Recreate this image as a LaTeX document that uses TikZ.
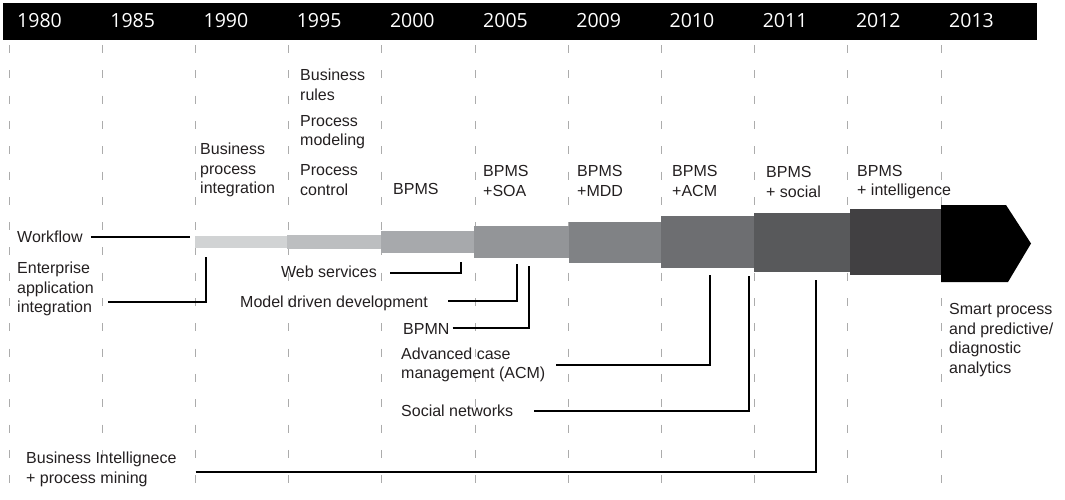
\documentclass[tikz,border=0pt]{standalone}
\usepackage{fontspec}
\setmainfont{Liberation Sans}
\newfontfamily\yearfont{Open Sans}
\usepackage{tikz}
\usetikzlibrary{positioning}

\definecolor{ink}{HTML}{231F20}
\definecolor{tone1}{HTML}{D1D3D4}
\definecolor{tone2}{HTML}{BCBEC0}
\definecolor{tone3}{HTML}{A7A9AC}
\definecolor{tone4}{HTML}{939598}
\definecolor{tone5}{HTML}{808285}
\definecolor{tone6}{HTML}{6D6E71}
\definecolor{tone7}{HTML}{58595B}
\definecolor{tone8}{HTML}{414042}

\tikzset{
  guide/.style={draw=gray!65, line width=0.9pt, dash pattern=on 8pt off 17.3pt},
  year/.style={text=white, font=\yearfont\fontsize{19.5}{22}\selectfont, anchor=west, inner sep=0},
  lbl/.style={text=ink, font=\fontsize{16}{19.6}\selectfont, align=left, inner sep=0},
  conn/.style={draw=black, line width=1.6pt},
  seg/.style={inner sep=0, outer sep=0, anchor=west, minimum height=#1},
}

\begin{document}
\begin{tikzpicture}[x=1pt,y=-1pt]
\useasboundingbox (0,0) rectangle (1065,500);
% header band with the years
\fill[black] (3,3) rectangle (1037,40);
\foreach \yr [count=\i from 0] in {1980,1985,1990,1995,2000,2005,2009,2010,2011,2012,2013} {
  \draw[guide] ({9+93.2*\i},45) -- ({9+93.2*\i},492);
  \node[year] (y\yr) at ({17+93.2*\i},21) {\yr};
}

% the growing bar
\foreach \x/\w/\h/\c [count=\n] in {195/92/12/tone1, 287/94/14/tone2, 381/93/22/tone3,
    474/95/32/tone4, 569/92/41/tone5, 661/93/52/tone6, 754/96/59/tone7, 850/91/66/tone8} {
  \node[seg=\h pt, fill=\c, minimum width=\w pt] (s\n) at (\x,242) {};
}
\fill[black] (941,205) -- (1006,205) -- (1031,243.5) -- (1008,282) -- (941,282) -- cycle;

% labels above
\node[lbl, anchor=west] (bpi) at (200,170) {Business\\process\\integration};
\node[lbl, anchor=west] (brules) at (300,85) {Business\\rules};
\node[lbl, anchor=west] (pmod) at (300,132) {Process\\modeling};
\node[lbl, anchor=west] (pctl) at (300,180) {Process\\control};
\node[lbl, anchor=west] (bpms) at (393,189) {BPMS};
\node[lbl, anchor=west] (soa) at (483,181) {BPMS\\+SOA};
\node[lbl, anchor=west] (mdd) at (577,181) {BPMS\\+MDD};
\node[lbl, anchor=west] (acmtop) at (672,181) {BPMS\\+ACM};
\node[lbl, anchor=west] (social) at (766,182) {BPMS\\+ social};
\node[lbl, anchor=west] (intel) at (857,182) {BPMS\\+ intelligence};
\node[lbl, anchor=west] (smart) at (949,340) {Smart process\\and predictive/\\diagnostic\\analytics};

% labels below
\node[lbl, anchor=west] (wf) at (17,237) {Workflow};
\node[lbl, anchor=west] (eai) at (17,289) {Enterprise\\application\\integration};
\node[lbl, anchor=east] (ws) at (377,272) {Web services};
\node[lbl, anchor=west] (mdev) at (240,303) {Model driven development};
\node[lbl, anchor=west] (bpmn) at (403,329) {BPMN};
\node[lbl, anchor=west] (acm) at (401,365) {Advanced case\\management (ACM)};
\node[lbl, anchor=west] (snet) at (401,411) {Social networks};
\node[lbl, anchor=west] (bi) at (26,469.5) {Business Intellignece\\+ process mining};

% connectors
\draw[conn] ([xshift=8pt]wf.east) -- ([xshift=-5pt]wf.east -| s1.west);
\draw[conn] ([xshift=14pt,yshift=-13pt]eai.east) -| ([xshift=11pt,yshift=-9pt]s1.south west);
\draw[conn] ([xshift=13pt,yshift=-1pt]ws.east) -| ([xshift=-13pt,yshift=-9pt]s3.south east);
\draw[conn] ([xshift=20pt,yshift=2pt]mdev.east) -| ([xshift=43pt,yshift=-6pt]s4.south west);
\draw[conn] ([xshift=3pt,yshift=1pt]bpmn.east) -| ([xshift=55pt,yshift=-8pt]s4.south west);
\draw[conn] ([xshift=11pt]acm.east) -| ([xshift=49pt,yshift=-7pt]s6.south west);
\draw[conn] ([xshift=21pt]snet.east) -| ([xshift=-5pt,yshift=-8pt]s6.south east);
\draw[conn] ([xshift=19pt,yshift=-2.5pt]bi.east) -| ([xshift=62pt,yshift=-8pt]s7.south west);
\end{tikzpicture}
\end{document}
